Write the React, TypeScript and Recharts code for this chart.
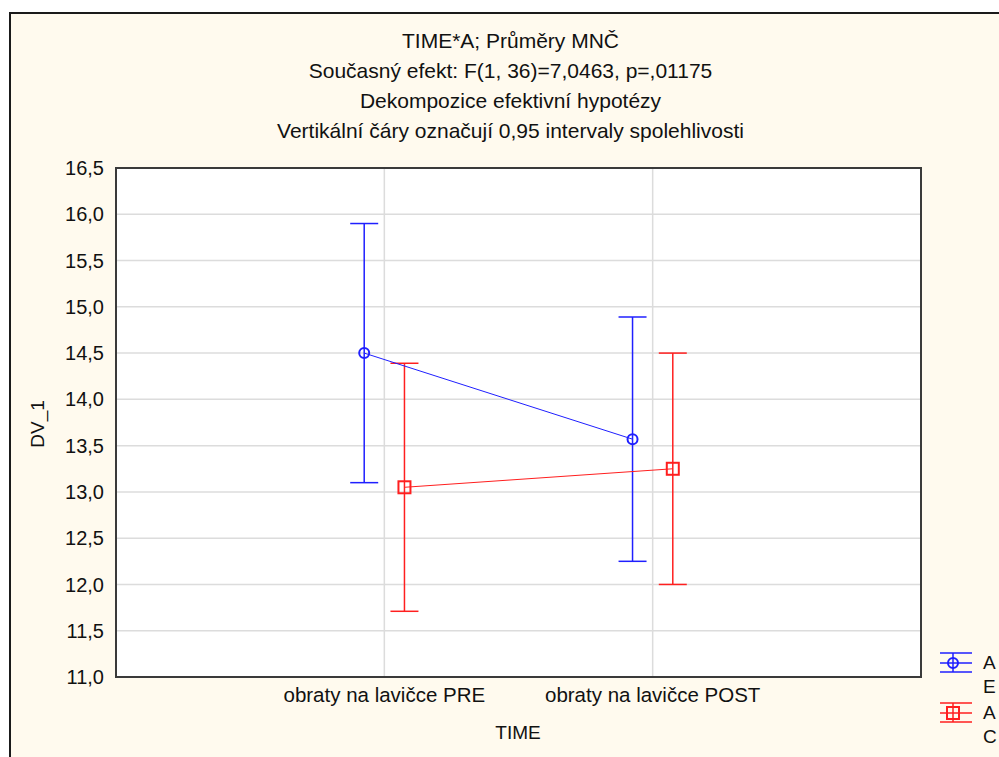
import { ComposedChart, Scatter, XAxis, YAxis, CartesianGrid, ErrorBar, ReferenceArea } from 'recharts';

const titleLines = [
  'TIME*A; Průměry MNČ',
  'Současný efekt: F(1, 36)=7,0463, p=,01175',
  'Dekompozice efektivní hypotézy',
  'Vertikální čáry označují 0,95 intervaly spolehlivosti',
];

const categories = ['obraty na lavičce PRE', 'obraty na lavičce POST'];
const categoryPos = [1, 2];
const yTicks = [11, 11.5, 12, 12.5, 13, 13.5, 14, 14.5, 15, 15.5, 16, 16.5];

// skupina E (modrá)
const meansE = [14.5, 13.57];
const ciE = [1.4, 1.32];
// skupina C (červená)
const meansC = [13.05, 13.25];
const ciC = [1.34, 1.25];

const legendNames = ['A E', 'A C'];

const BLUE = '#1f1fff';
const RED = '#ff1f1f';
const FONT = '"Liberation Sans", Arial, sans-serif';

const dataE = categoryPos.map((p, i) => ({ x: p - 0.075, y: meansE[i], err: ciE[i] }));
const dataC = categoryPos.map((p, i) => ({ x: p + 0.075, y: meansC[i], err: ciC[i] }));

const fmtY = (v: number) => v.toFixed(1).replace('.', ',');

const CircleMark = (props: any) => (
  <circle cx={props.cx} cy={props.cy} r={5} fill="none" stroke={BLUE} strokeWidth={2} />
);
const SquareMark = (props: any) => (
  <rect x={props.cx - 6} y={props.cy - 6} width={12} height={12} fill="none" stroke={RED} strokeWidth={2} />
);

const LegendSymbol = ({ color, circle }: { color: string; circle: boolean }) => (
  <svg width={34} height={22} style={{ display: 'block' }}>
    <line x1={1} x2={33} y1={1} y2={1} stroke={color} strokeWidth={1.5} />
    <line x1={1} x2={33} y1={11} y2={11} stroke={color} strokeWidth={1.5} />
    <line x1={1} x2={33} y1={20} y2={20} stroke={color} strokeWidth={1.5} />
    <line x1={14} x2={14} y1={1} y2={20} stroke={color} strokeWidth={1.5} />
    {circle ? (
      <circle cx={14} cy={11} r={5} fill="none" stroke={color} strokeWidth={2} />
    ) : (
      <rect x={8} y={5} width={12} height={12} fill="none" stroke={color} strokeWidth={2} />
    )}
  </svg>
);

export default function App() {
  return (
    <div style={{ position: 'absolute', left: 0, top: 0, width: 999, height: 757, background: '#fff', overflow: 'hidden', fontFamily: FONT }}>
      <div
        style={{
          position: 'absolute',
          left: 9,
          top: 12,
          width: 990,
          height: 745,
          background: '#fffaee',
          borderTop: '2px solid #1a1a1a',
          borderLeft: '2px solid #1a1a1a',
          boxSizing: 'border-box',
        }}
      />
      {titleLines.map((t, i) => (
        <div
          key={i}
          style={{ position: 'absolute', left: 0, width: 1021, top: 28 + i * 30, textAlign: 'center', fontSize: 21, color: '#111', lineHeight: '26px' }}
        >
          {t}
        </div>
      ))}
      <div style={{ position: 'absolute', left: 0, top: 0 }}>
        <ComposedChart width={999} height={757} margin={{ top: 168, right: 78, bottom: 50, left: 56 }}>
          <CartesianGrid stroke="#dcdcdc" strokeWidth={1.5} fill="#ffffff" />
          <XAxis
            type="number"
            dataKey="x"
            domain={[0, 3]}
            ticks={categoryPos}
            tickFormatter={(v: number) => categories[v - 1] ?? ''}
            axisLine={false}
            tickLine={false}
            tickSize={6}
            tickMargin={4}
            height={30}
            tick={{ fill: '#111', fontSize: 20.5, fontFamily: FONT }}
            allowDataOverflow
          />
          <YAxis
            type="number"
            dataKey="y"
            domain={[11, 16.5]}
            ticks={yTicks}
            tickFormatter={fmtY}
            axisLine={false}
            tickLine={false}
            tickSize={6}
            tickMargin={6}
            width={60}
            interval={0}
            tick={{ fill: '#111', fontSize: 20, fontFamily: FONT }}
            allowDataOverflow
          />
          <Scatter data={dataE} line={{ stroke: BLUE, strokeWidth: 1 }} shape={CircleMark} isAnimationActive={false}>
            <ErrorBar dataKey="err" direction="y" width={14} stroke={BLUE} strokeWidth={1.5} isAnimationActive={false} />
          </Scatter>
          <Scatter data={dataC} line={{ stroke: RED, strokeWidth: 1 }} shape={SquareMark} isAnimationActive={false}>
            <ErrorBar dataKey="err" direction="y" width={14} stroke={RED} strokeWidth={1.5} isAnimationActive={false} />
          </Scatter>
          <ReferenceArea x1={0} x2={3} y1={11} y2={16.5} fill="none" stroke="#3a3a3a" strokeWidth={2} ifOverflow="visible" />
        </ComposedChart>
      </div>
      <div style={{ position: 'absolute', left: 0, width: 1036, top: 722, textAlign: 'center', fontSize: 19, color: '#111' }}>TIME</div>
      <div
        style={{
          position: 'absolute',
          left: 38,
          top: 424,
          transform: 'translate(-50%, -50%) rotate(-90deg)',
          fontSize: 19,
          color: '#111',
          whiteSpace: 'nowrap',
        }}
      >
        DV_1
      </div>
      {legendNames.map((name, i) => (
        <div key={name} style={{ position: 'absolute', left: 939, top: 652 + i * 50, display: 'flex', alignItems: 'flex-start' }}>
          <LegendSymbol color={i === 0 ? BLUE : RED} circle={i === 0} />
          <div style={{ marginLeft: 10, marginTop: -1, width: 14, fontSize: 19, lineHeight: '24px', color: '#111', wordBreak: 'break-all' }}>
            {name}
          </div>
        </div>
      ))}
    </div>
  );
}
